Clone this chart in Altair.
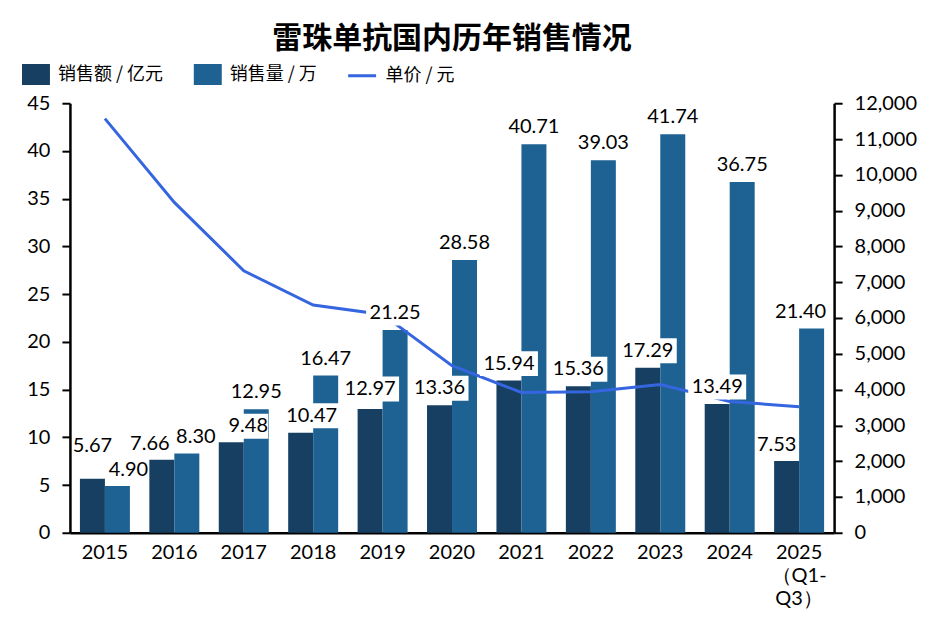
import altair as alt
import pandas as pd

years = ["2015", "2016", "2017", "2018", "2019", "2020", "2021", "2022", "2023", "2024", "2025（Q1-Q3）"]
sales = [5.67, 7.66, 9.48, 10.47, 12.97, 13.36, 15.94, 15.36, 17.29, 13.49, 7.53]
volume = [4.90, 8.30, 12.95, 16.47, 21.25, 28.58, 40.71, 39.03, 41.74, 36.75, 21.40]
price = [11570, 9230, 7320, 6360, 6100, 4670, 3920, 3940, 4140, 3670, 3520]

S_SALES = "销售额 / 亿元"
S_VOL = "销售量 / 万"
S_PRICE = "单价 / 元"

bars_df = pd.DataFrame({
    "year": years * 2,
    "series": [S_SALES] * len(years) + [S_VOL] * len(years),
    "value": sales + volume,
})
bars_df["label"] = bars_df["value"].map(lambda v: f"{v:.2f}")
line_df = pd.DataFrame({"year": years, "price": price, "series": [S_PRICE] * len(years)})

C_DARK = "#163f62"
C_MID = "#1e6294"
C_LINE = "#3565df"
NUM_FONT = "Lato"
CJK_FONT = "Noto Sans CJK SC"

x_enc = alt.X(
    "year:N", sort=years,
    scale=alt.Scale(paddingInner=0.28, paddingOuter=0.144),
    axis=alt.Axis(
        title=None, labelAngle=0, ticks=False, labelPadding=10,
        labelLineHeight=23,
        labelExpr="datum.value == '2025（Q1-Q3）' ? ['2025', ' （Q1-', 'Q3）'] : datum.label",
    ),
)
xoff = alt.XOffset("series:N", sort=[S_SALES, S_VOL], scale=alt.Scale(paddingInner=0, paddingOuter=0))
y_left = alt.Y("value:Q", scale=alt.Scale(domain=[0, 45]),
               axis=alt.Axis(title=None, values=list(range(0, 46, 5)), grid=False))
y_left_hidden = alt.Y("value:Q", scale=alt.Scale(domain=[0, 45]), axis=None)

bars = alt.Chart(bars_df).mark_bar().encode(
    x=x_enc, xOffset=xoff, y=y_left,
    color=alt.Color(
        "series:N", sort=[S_SALES, S_VOL],
        scale=alt.Scale(domain=[S_SALES, S_VOL], range=[C_DARK, C_MID]),
        legend=alt.Legend(
            title=None, orient="none", legendX=-48, legendY=-43, direction="horizontal",
            symbolType="M-1,-0.75L1,-0.75L1,0.75L-1,0.75Z", symbolSize=784,
            symbolOpacity=1, symbolStrokeWidth=0, labelFont=CJK_FONT, labelFontSize=18,
            labelColor="black", labelOffset=8, columnPadding=30,
        ),
    ),
)

line = alt.Chart(line_df).mark_line(strokeWidth=3).encode(
    x=alt.X("year:N", sort=years),
    y=alt.Y("price:Q", scale=alt.Scale(domain=[0, 12000]),
            axis=alt.Axis(title=None, orient="right", values=list(range(0, 12001, 1000)),
                          labelExpr="format(datum.value, ',.0f')", grid=False)),
    stroke=alt.Stroke(
        "series:N",
        scale=alt.Scale(domain=[S_PRICE], range=[C_LINE]),
        legend=alt.Legend(
            title=None, orient="none", legendX=277, legendY=-43, direction="horizontal",
            symbolType="stroke", symbolSize=784, symbolStrokeWidth=3,
            labelFont=CJK_FONT, labelFontSize=18, labelColor="black", labelOffset=8,
        ),
    ),
)

BOX_SIZE = 3969          # symbol size -> path unit = sqrt(size)/2 = 31.5 px
UNIT = 31.5


def box_path(half_w_px, dx_px):
    a = (dx_px - half_w_px) / UNIT
    b = (dx_px + half_w_px) / UNIT
    h = 12.5 / UNIT
    return f"M{a:.3f},{-h:.3f}L{b:.3f},{-h:.3f}L{b:.3f},{h:.3f}L{a:.3f},{h:.3f}Z"


# label placement nudges (pixels) for labels that the original moved apart
DEFAULT_NUDGE = (0, -17)
nudges = {
    ("2015", S_SALES): (0, -33),
    ("2015", S_VOL): (11, -16),
    ("2016", S_SALES): (-12, -16),
    ("2016", S_VOL): (9, -17),
    ("2017", S_SALES): (17, -16),
    ("2018", S_SALES): (11, -17),
    ("2019", S_SALES): (0, -20),
    ("2025（Q1-Q3）", S_SALES): (-10, -16),
    ("2025（Q1-Q3）", S_VOL): (-11, -17),
}


def sel_expr(year, series):
    return f"(datum.year == '{year}' && datum.series == '{series}')"


others = "!(" + " || ".join(sel_expr(y, s) for (y, s) in nudges) + ")"


def boxes(dx, dy, flt):
    return alt.Chart(bars_df).transform_filter(flt).mark_point(
        filled=True, color="white", opacity=1, size=BOX_SIZE, yOffset=dy
    ).encode(
        x=alt.X("year:N", sort=years), xOffset=xoff, y=y_left_hidden,
        shape=alt.condition("length(datum.label) > 4",
                            alt.value(box_path(29, dx)), alt.value(box_path(20, dx))),
    )


def texts(dx, dy, flt):
    return alt.Chart(bars_df).transform_filter(flt).mark_text(
        font=NUM_FONT, fontSize=20, color="black", baseline="middle", dx=dx, yOffset=dy
    ).encode(
        x=alt.X("year:N", sort=years), xOffset=xoff, y=y_left_hidden,
        text="label:N",
    )


box_layers = [boxes(DEFAULT_NUDGE[0], DEFAULT_NUDGE[1], others)]
text_layers = [texts(DEFAULT_NUDGE[0], DEFAULT_NUDGE[1], others)]
for (yr, sr), (dx, dy) in nudges.items():
    box_layers.append(boxes(dx, dy, sel_expr(yr, sr)))
    text_layers.append(texts(dx, dy, sel_expr(yr, sr)))

chart = alt.layer(
    bars, line, *box_layers, *text_layers,
).resolve_scale(y="independent").properties(
    width=765, height=430,
    padding={"left": 14, "top": 16, "right": 10, "bottom": 5},
    title=alt.Title("雷珠单抗国内历年销售情况", font=CJK_FONT, fontSize=30, fontWeight="bold",
                    color="black", anchor="middle", offset=6),
).configure_view(stroke=None).configure_axis(
    labelFont=NUM_FONT, labelFontSize=20, labelColor="black",
    domainColor="black", domainWidth=2.5, tickColor="black", tickWidth=2,
    tickSize=8, labelPadding=12,
)

chart.save("out.html", embed_options={"renderer": "svg", "actions": False})
